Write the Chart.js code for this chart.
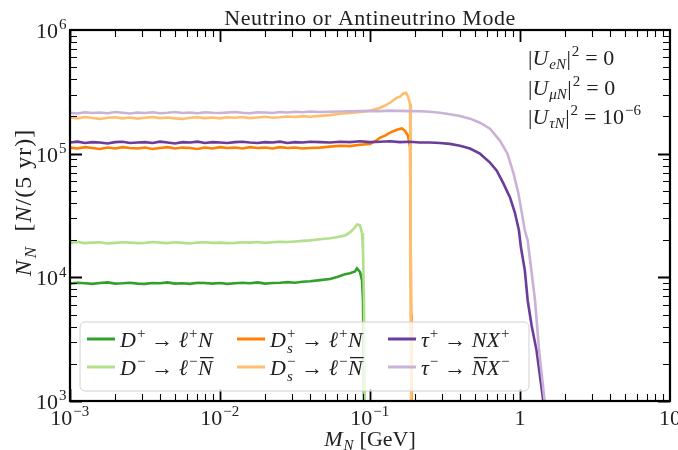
<!DOCTYPE html>
<html lang="en">
<head>
  <meta charset="UTF-8" />
  <title>Neutrino or Antineutrino Mode</title>
  <script src="https://cdn.jsdelivr.net/npm/chart.js@4.4.0/dist/chart.umd.min.js"></script>
  <style>
    html, body { margin: 0; padding: 0; background: #fff; }
  </style>
</head>
<body>
  <canvas id="chart" width="678" height="450"></canvas>
<script>
  // masses sampled in the flat (low mass) part, GeV
  const massLow = [0.001, 0.00112, 0.00126, 0.00141, 0.00158, 0.00178, 0.002, 0.00224, 0.00251, 0.00282,
    0.00316, 0.00355, 0.00398, 0.00447, 0.00501, 0.00562, 0.00631, 0.00708, 0.00794, 0.00891,
    0.01, 0.0112, 0.0126, 0.0141, 0.0158, 0.0178, 0.02, 0.0224, 0.0251, 0.0282,
    0.0316, 0.0355, 0.0398];

  // D+ -> l+ N
  const dPlusLow = [8900, 9050, 8950, 8850, 9000, 9100, 8900, 8950, 9050, 8900, 8850,
    9000, 8950, 9100, 8900, 8950, 8850, 9050, 9000, 8900, 9000, 8850,
    8950, 9050, 8950, 9100, 8900, 9000, 9050, 9150, 9050, 9200, 9300];
  const dPlusTailM = [0.0464, 0.0541, 0.0611, 0.0681, 0.0736, 0.0794, 0.0819, 0.0858, 0.0885, 0.0898, 0.0912, 0.0918];
  const dPlusTailN = [9500, 9700, 10100, 10570, 10800, 11170, 11800, 11000, 9460, 6530, 1000, 500];

  // D- -> l- Nbar
  const dMinusLow = [19000, 19300, 18900, 19100, 19200, 18800, 19000, 19200, 19100, 18900, 19000,
    19300, 19100, 18900, 19200, 19000, 18800, 19100, 19200, 19000, 19100, 18900,
    19000, 19200, 19100, 19300, 19000, 19200, 19400, 19300, 19500, 19700, 19900];
  const dMinusTailM = [0.0464, 0.0541, 0.0611, 0.0681, 0.0736, 0.0794, 0.0819, 0.0858, 0.0885, 0.0898, 0.0912, 0.0925];
  const dMinusTailN = [20300, 20700, 21200, 21800, 23100, 25300, 26700, 26300, 22700, 16500, 6530, 500];

  // Ds+ -> l+ N
  const dsPlusLow = [112000, 110000, 113000, 111000, 109000, 112000, 110000, 113000, 111000, 110000, 112000,
    109000, 111000, 113000, 110000, 112000, 111000, 109000, 112000, 110000, 113000, 111000,
    112000, 110000, 113000, 111000, 112000, 110000, 113000, 111000, 112000, 110000, 111000];
  const dsPlusTailM = [0.0464, 0.0541, 0.0631, 0.0736, 0.0858, 0.1, 0.108, 0.117, 0.126, 0.136, 0.151, 0.163, 0.171, 0.179, 0.185, 0.188, 0.189];
  const dsPlusTailN = [112000, 114000, 116000, 115000, 118000, 120000, 126000, 135000, 140000, 148000, 156000, 160000, 153000, 140000, 112000, 5000, 500];

  // Ds- -> l- Nbar
  const dsMinusLow = [196000, 193000, 198000, 194000, 191000, 195000, 197000, 193000, 196000, 192000, 195000,
    198000, 194000, 196000, 193000, 191000, 195000, 197000, 194000, 196000, 193000, 197000,
    195000, 198000, 194000, 196000, 199000, 195000, 197000, 200000, 198000, 201000, 199000];
  const dsMinusTailM = [0.0464, 0.0541, 0.0631, 0.0736, 0.0858, 0.1, 0.117, 0.126, 0.136, 0.151, 0.158, 0.166, 0.174, 0.179, 0.185, 0.187, 0.188];
  const dsMinusTailN = [202000, 205000, 210000, 213000, 217000, 222000, 235000, 245000, 258000, 283000, 288000, 305000, 310000, 290000, 253000, 5000, 500];

  // tau+ -> N X+
  const tauPlusLow = [123000, 125000, 122000, 124000, 123000, 121000, 124000, 125000, 122000, 123000, 124000,
    122000, 125000, 123000, 121000, 124000, 123000, 125000, 122000, 124000, 123000, 122000,
    124000, 125000, 123000, 122000, 124000, 123000, 125000, 122000, 124000, 123000, 125000];
  const tauPlusTailM = [0.0464, 0.0541, 0.0631, 0.0736, 0.0858, 0.1, 0.117, 0.136, 0.158, 0.184,
    0.215, 0.251, 0.292, 0.341, 0.398, 0.464, 0.541, 0.631, 0.70, 0.776,
    0.858, 0.924, 0.984, 1.014, 1.077, 1.125, 1.194, 1.288, 1.43, 1.46];
  const tauPlusTailN = [124000, 123000, 125000, 124000, 126000, 124000, 125000, 126000, 124000, 125000,
    123000, 123000, 122000, 120000, 116000, 110000, 100000, 84600, 72900, 57300,
    44200, 33400, 23900, 17500, 11400, 6530, 4100, 2580, 1000, 500];

  // tau- -> Nbar X-
  const tauMinusLow = [214000, 211000, 216000, 213000, 215000, 212000, 217000, 214000, 211000, 215000, 213000,
    216000, 212000, 214000, 217000, 213000, 215000, 212000, 216000, 214000, 213000, 215000,
    217000, 214000, 212000, 216000, 215000, 213000, 217000, 215000, 218000, 216000, 219000];
  const tauMinusTailM = [0.0464, 0.0541, 0.0631, 0.0736, 0.0858, 0.1, 0.117, 0.136, 0.158, 0.184,
    0.215, 0.251, 0.292, 0.341, 0.398, 0.464, 0.541, 0.631, 0.736, 0.825,
    0.906, 0.976, 1.03, 1.077, 1.125, 1.259, 1.34, 1.46, 1.5];
  const tauMinusTailN = [217000, 218000, 219000, 220000, 221000, 222000, 221000, 223000, 222000, 221000,
    220000, 218000, 214000, 208000, 202000, 192000, 178000, 159000, 127000, 100000,
    69000, 47600, 32800, 23900, 19900, 6530, 2580, 1000, 500];

  const seriesNames = ['D+ → ℓ+N', 'D− → ℓ−N̄', 'Ds+ → ℓ+N', 'Ds− → ℓ−N̄', 'τ+ → NX+', 'τ− → N̄X−'];
  const seriesColors = ['#33a02c', '#b2df8a', '#ff7f00', '#fdbf6f', '#6a3d9a', '#cab2d6'];

  const xTicks = [0.001, 0.01, 0.1, 1, 10];
  const xTickBase = ['10', '10', '10', '1', '10'];
  const xTickExp = ['−3', '−2', '−1', '', ''];
  const yTicks = [1e3, 1e4, 1e5, 1e6];
  const yTickExp = ['3', '4', '5', '6'];

  const SERIF = "'Liberation Serif', 'DejaVu Serif', serif";

  function pts(m1, n1, m2, n2) {
    var out = [];
    for (var i = 0; i < m1.length; i++) out.push({x: m1[i], y: n1[i]});
    for (var j = 0; j < m2.length; j++) out.push({x: m2[j], y: n2[j]});
    return out;
  }

  const allSeries = [
    pts(massLow, dPlusLow, dPlusTailM, dPlusTailN),
    pts(massLow, dMinusLow, dMinusTailM, dMinusTailN),
    pts(massLow, dsPlusLow, dsPlusTailM, dsPlusTailN),
    pts(massLow, dsMinusLow, dsMinusTailM, dsMinusTailN),
    pts(massLow, tauPlusLow, tauPlusTailM, tauPlusTailN),
    pts(massLow, tauMinusLow, tauMinusTailM, tauMinusTailN)
  ];

  // math-ish text: pieces {t, s} s = r roman, i italic, o italic+overline, sup, sub, ss (sup t / sub u)
  function piece(ctx, p, size, draw, x, y) {
    var small = Math.round(size * 0.7);
    if (p.s === 'r' || p.s === 'i' || p.s === 'o') {
      ctx.font = (p.s !== 'r' ? 'italic ' : '') + size + 'px ' + SERIF;
      var w = ctx.measureText(p.t).width;
      if (draw) {
        ctx.fillText(p.t, x, y);
        if (p.s === 'o') ctx.fillRect(x + 2, y - size * 0.82, w - 1, 1.3);
      }
      return w;
    }
    if (p.s === 'sup' || p.s === 'sub') {
      ctx.font = (p.i ? 'italic ' : '') + small + 'px ' + SERIF;
      var w2 = ctx.measureText(p.t).width;
      if (draw) ctx.fillText(p.t, x + 1, y + (p.s === 'sup' ? -size * 0.4 : size * 0.2));
      return w2 + 1.5;
    }
    if (p.s === 'ss') {
      ctx.font = small + 'px ' + SERIF;
      var wa = ctx.measureText(p.t).width;
      if (draw) ctx.fillText(p.t, x + 1, y - size * 0.42);
      ctx.font = 'italic ' + small + 'px ' + SERIF;
      var wb = ctx.measureText(p.u).width;
      if (draw) ctx.fillText(p.u, x + 1, y + size * 0.25);
      return Math.max(wa, wb) + 1.5;
    }
    return 0;
  }

  function drawMath(ctx, parts, x, y, size, align) {
    var w = 0;
    parts.forEach(function(p) { w += piece(ctx, p, size, false, 0, 0); });
    var cx = align === 'center' ? x - w / 2 : (align === 'right' ? x - w : x);
    ctx.textAlign = 'left';
    ctx.textBaseline = 'alphabetic';
    parts.forEach(function(p) { cx += piece(ctx, p, size, true, cx, y); });
    return w;
  }

  const arrow = {t: ' → ', s: 'r'};
  const legendParts = [
    [{t: 'D', s: 'i'}, {t: '+', s: 'sup'}, arrow, {t: 'ℓ', s: 'i'}, {t: '+', s: 'sup'}, {t: 'N', s: 'i'}],
    [{t: 'D', s: 'i'}, {t: '−', s: 'sup'}, arrow, {t: 'ℓ', s: 'i'}, {t: '−', s: 'sup'}, {t: 'N', s: 'o'}],
    [{t: 'D', s: 'i'}, {t: '+', s: 'ss', u: 's'}, arrow, {t: 'ℓ', s: 'i'}, {t: '+', s: 'sup'}, {t: 'N', s: 'i'}],
    [{t: 'D', s: 'i'}, {t: '−', s: 'ss', u: 's'}, arrow, {t: 'ℓ', s: 'i'}, {t: '−', s: 'sup'}, {t: 'N', s: 'o'}],
    [{t: 'τ', s: 'i'}, {t: '+', s: 'sup'}, arrow, {t: 'NX', s: 'i'}, {t: '+', s: 'sup'}],
    [{t: 'τ', s: 'i'}, {t: '−', s: 'sup'}, arrow, {t: 'N', s: 'o'}, {t: 'X', s: 'i'}, {t: '−', s: 'sup'}]
  ];

  const couplingLines = [
    [{t: '|', s: 'r'}, {t: 'U', s: 'i'}, {t: 'eN', s: 'sub', i: true}, {t: '|', s: 'r'}, {t: '2', s: 'sup'}, {t: ' = 0', s: 'r'}],
    [{t: '|', s: 'r'}, {t: 'U', s: 'i'}, {t: 'μN', s: 'sub', i: true}, {t: '|', s: 'r'}, {t: '2', s: 'sup'}, {t: ' = 0', s: 'r'}],
    [{t: '|', s: 'r'}, {t: 'U', s: 'i'}, {t: 'τN', s: 'sub', i: true}, {t: '|', s: 'r'}, {t: '2', s: 'sup'}, {t: ' = 10', s: 'r'}, {t: '−6', s: 'sup'}]
  ];

  const decorations = {
    id: 'decorations',
    afterDatasetsDraw: function(chart) {
      const ctx = chart.ctx;
      const a = chart.chartArea;
      const xs = chart.scales.x, ys = chart.scales.y;
      ctx.save();
      ctx.fillStyle = '#000';
      ctx.strokeStyle = '#000';

      // minor + major ticks, pointing inwards on all four sides
      for (var e = -3; e <= 0; e++) {
        for (var m = 1; m <= 9; m++) {
          var v = m * Math.pow(10, e);
          var px = Math.round(xs.getPixelForValue(v)) + 0.5;
          var len = m === 1 ? 12 : 7;
          ctx.lineWidth = m === 1 ? 1.8 : 1.1;
          ctx.beginPath();
          ctx.moveTo(px, a.bottom); ctx.lineTo(px, a.bottom - len);
          ctx.moveTo(px, a.top); ctx.lineTo(px, a.top + len);
          ctx.stroke();
        }
      }
      for (var ey = 3; ey <= 5; ey++) {
        for (var my = 1; my <= 9; my++) {
          var vy = my * Math.pow(10, ey);
          var py = Math.round(ys.getPixelForValue(vy)) + 0.5;
          var leny = my === 1 ? 12 : 7;
          ctx.lineWidth = my === 1 ? 1.8 : 1.1;
          ctx.beginPath();
          ctx.moveTo(a.left, py); ctx.lineTo(a.left + leny, py);
          ctx.moveTo(a.right, py); ctx.lineTo(a.right - leny, py);
          ctx.stroke();
        }
      }

      // frame
      ctx.lineWidth = 2.2;
      ctx.strokeRect(a.left, a.top, a.right - a.left, a.bottom - a.top);

      // tick labels
      ctx.fillStyle = '#222';
      xTicks.forEach(function(v, i) {
        var parts = [{t: xTickBase[i], s: 'r'}];
        if (xTickExp[i]) parts.push({t: xTickExp[i], s: 'sup'});
        drawMath(ctx, parts, xs.getPixelForValue(v), a.bottom + 24, 22, 'center');
      });
      yTicks.forEach(function(v, i) {
        drawMath(ctx, [{t: '10', s: 'r'}, {t: yTickExp[i], s: 'sup'}], a.left - 3, ys.getPixelForValue(v) + 8, 22, 'right');
      });

      // axis titles
      drawMath(ctx, [{t: 'M', s: 'i'}, {t: 'N', s: 'sub', i: true}, {t: ' [GeV]', s: 'r'}], (a.left + a.right) / 2, 446, 22, 'center');
      ctx.save();
      ctx.translate(31, (a.top + a.bottom) / 2 - 13);
      ctx.rotate(-Math.PI / 2);
      ctx.letterSpacing = '1px';
      drawMath(ctx, [{t: 'N', s: 'i'}, {t: 'N', s: 'sub', i: true}, {t: '  [', s: 'r'}, {t: 'N', s: 'i'}, {t: '/(5 yr)]', s: 'r'}], 0, 0, 24, 'center');
      ctx.restore();

      // title
      ctx.save();
      ctx.letterSpacing = '0.5px';
      drawMath(ctx, [{t: 'Neutrino or Antineutrino Mode', s: 'r'}], (a.left + a.right) / 2, 25, 22, 'center');
      ctx.restore();

      // couplings
      couplingLines.forEach(function(parts, i) {
        drawMath(ctx, parts, 528, 65 + i * 29.5, 22, 'left');
      });

      // legend, 3 columns x 2 rows
      var bx = 80, by = 322, bw = 449, bh = 69, r = 5;
      ctx.beginPath();
      ctx.moveTo(bx + r, by);
      ctx.arcTo(bx + bw, by, bx + bw, by + bh, r);
      ctx.arcTo(bx + bw, by + bh, bx, by + bh, r);
      ctx.arcTo(bx, by + bh, bx, by, r);
      ctx.arcTo(bx, by, bx + bw, by, r);
      ctx.closePath();
      ctx.fillStyle = 'rgba(255,255,255,0.8)';
      ctx.fill();
      ctx.strokeStyle = '#d0d0d0';
      ctx.lineWidth = 1;
      ctx.stroke();

      var colX = [87, 237, 388];
      var rowY = [339, 367];
      chart.data.datasets.forEach(function(ds, i) {
        var cx = colX[Math.floor(i / 2)], cy = rowY[i % 2];
        ctx.strokeStyle = ds.borderColor;
        ctx.lineWidth = 3;
        ctx.beginPath();
        ctx.moveTo(cx, cy); ctx.lineTo(cx + 28, cy);
        ctx.stroke();
        ctx.fillStyle = '#222';
        drawMath(ctx, legendParts[i], cx + 33, cy + 8, 22, 'left');
      });
      ctx.restore();
    }
  };

  const datasets = allSeries.map(function(d, i) {
    return {
      label: seriesNames[i],
      data: d,
      borderColor: seriesColors[i],
      backgroundColor: seriesColors[i],
      borderWidth: 2.6,
      pointRadius: 0,
      tension: 0,
      order: 6 - i
    };
  });

  new Chart(document.getElementById('chart'), {
    type: 'line',
    data: { datasets: datasets },
    options: {
      responsive: false,
      animation: false,
      devicePixelRatio: 1,
      parsing: false,
      layout: { padding: { left: 70, right: 8, top: 30, bottom: 49 } },
      scales: {
        x: { type: 'logarithmic', min: 0.001, max: 10, display: false },
        y: { type: 'logarithmic', min: 1000, max: 1000000, display: false }
      },
      plugins: {
        legend: { display: false },
        tooltip: { enabled: false },
        title: { display: false }
      }
    },
    plugins: [decorations]
  });
</script>
</body>
</html>
